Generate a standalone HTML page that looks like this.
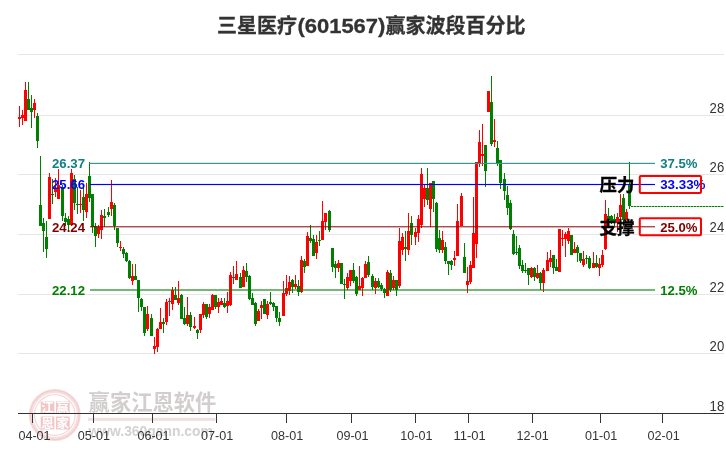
<!DOCTYPE html>
<html lang="zh-CN">
<head>
<meta charset="utf-8">
<title>三星医疗(601567)赢家波段百分比</title>
<style>
html,body{margin:0;padding:0;background:#fff;}
body{width:726px;height:450px;overflow:hidden;position:relative;font-family:"Liberation Sans","Noto Sans CJK SC",sans-serif;}
#chart{position:absolute;left:0;top:0;width:726px;height:450px;display:block;}
text{font-family:"Liberation Sans","Noto Sans CJK SC",sans-serif;}
.title{font-size:20px;font-weight:bold;fill:#333;stroke:#333;stroke-width:0.3px;}
.ax{font-size:13px;fill:#333;}
.lb{font-size:12px;font-weight:bold;}
.zh{font-size:17.5px;font-weight:bold;fill:#000;stroke:#000;stroke-width:0.35px;}
.wm{font-size:21.3px;font-weight:bold;fill:#d3cece;}
.wm2{font-size:14.2px;font-weight:bold;fill:#d3d1d1;}
</style>
</head>
<body>
<svg id="chart" width="726" height="450" viewBox="0 0 726 450" shape-rendering="crispEdges">
<rect x="0" y="0" width="726" height="450" fill="#fff"/>
<!-- grid -->
<g fill="#e6e6e6">
<rect x="18" y="54" width="706" height="1"/>
<rect x="18" y="115" width="706" height="1"/>
<rect x="18" y="174" width="706" height="1"/>
<rect x="18" y="234" width="706" height="1"/>
<rect x="18" y="294" width="706" height="1"/>
<rect x="18" y="353" width="706" height="1"/>
</g>
<!-- watermark -->
<g id="wm" shape-rendering="auto">
<circle cx="54.8" cy="415" r="24" fill="none" stroke="#f7dede" stroke-width="4"/>
<circle cx="54.8" cy="415" r="24.6" fill="none" stroke="#f3cdcd" stroke-width="1.2"/>
<circle cx="54.8" cy="415" r="20.3" fill="none" stroke="#f5d6d6" stroke-width="1.2"/>
<rect x="40.7" y="401.5" width="13.7" height="12" fill="#f1c6c6"/>
<rect x="56" y="401.5" width="13.7" height="12" fill="#f1c6c6"/>
<rect x="40.7" y="416.5" width="13.7" height="13" fill="#f1c6c6"/>
<rect x="56" y="416.5" width="13.7" height="13" fill="#f1c6c6"/>
<text x="47.5" y="412" text-anchor="middle" font-size="12.5" font-weight="bold" fill="#fff">江</text>
<text x="62.8" y="412" text-anchor="middle" font-size="12.5" font-weight="bold" fill="#fff">赢</text>
<text x="47.5" y="427.8" text-anchor="middle" font-size="12.5" font-weight="bold" fill="#fff">恩</text>
<text x="62.8" y="427.8" text-anchor="middle" font-size="12.5" font-weight="bold" fill="#fff">家</text>
<text class="wm" x="88.6" y="409.6">赢家江恩软件</text>
<rect x="88" y="417.8" width="127.5" height="3" fill="#f2e0e0"/>
<text class="wm2" x="88.4" y="435.6" textLength="124.5" lengthAdjust="spacingAndGlyphs">www.360gann.com</text>
</g>
<!-- candles -->
<g id="candles">
<rect x="19" y="106" width="1" height="21" fill="#ff0000"/><rect x="18" y="117" width="3" height="2" fill="#ff0000"/>
<rect x="22" y="110" width="1" height="15" fill="#ff0000"/><rect x="21" y="115" width="3" height="3" fill="#ff0000"/>
<rect x="25" y="82" width="1" height="39" fill="#ff0000"/><rect x="24" y="90" width="3" height="31" fill="#ff0000"/>
<rect x="28" y="82" width="1" height="28" fill="#008000"/><rect x="27" y="99" width="3" height="11" fill="#008000"/>
<rect x="31" y="95" width="1" height="33" fill="#008000"/><rect x="30" y="108" width="3" height="4" fill="#008000"/>
<rect x="34" y="99" width="1" height="19" fill="#ff0000"/><rect x="33" y="103" width="3" height="7" fill="#ff0000"/>
<rect x="37" y="113" width="1" height="35" fill="#008000"/><rect x="36" y="116" width="3" height="25" fill="#008000"/>
<rect x="40" y="156" width="1" height="70" fill="#008000"/><rect x="39" y="205" width="3" height="21" fill="#008000"/>
<rect x="43" y="218" width="1" height="34" fill="#008000"/><rect x="42" y="223" width="3" height="8" fill="#008000"/>
<rect x="46" y="221" width="1" height="37" fill="#008000"/><rect x="45" y="237" width="3" height="12" fill="#008000"/>
<rect x="49" y="173" width="1" height="46" fill="#ff0000"/><rect x="48" y="177" width="3" height="42" fill="#ff0000"/>
<rect x="52" y="179" width="1" height="25" fill="#008000"/><rect x="51" y="194" width="3" height="1" fill="#008000"/>
<rect x="55" y="178" width="1" height="19" fill="#ff0000"/><rect x="54" y="188" width="3" height="4" fill="#ff0000"/>
<rect x="58" y="169" width="1" height="30" fill="#ff0000"/><rect x="57" y="185" width="3" height="14" fill="#ff0000"/>
<rect x="62" y="185" width="1" height="36" fill="#008000"/><rect x="61" y="187" width="3" height="29" fill="#008000"/>
<rect x="65" y="213" width="1" height="13" fill="#008000"/><rect x="64" y="218" width="3" height="4" fill="#008000"/>
<rect x="68" y="216" width="1" height="15" fill="#008000"/><rect x="67" y="219" width="3" height="6" fill="#008000"/>
<rect x="71" y="169" width="1" height="57" fill="#ff0000"/><rect x="70" y="173" width="3" height="52" fill="#ff0000"/>
<rect x="74" y="175" width="1" height="35" fill="#008000"/><rect x="73" y="179" width="3" height="24" fill="#008000"/>
<rect x="77" y="187" width="1" height="27" fill="#008000"/><rect x="76" y="204" width="3" height="1" fill="#008000"/>
<rect x="80" y="190" width="1" height="23" fill="#ff0000"/><rect x="79" y="204" width="3" height="1" fill="#ff0000"/>
<rect x="83" y="188" width="1" height="33" fill="#008000"/><rect x="82" y="197" width="3" height="13" fill="#008000"/>
<rect x="86" y="183" width="1" height="35" fill="#ff0000"/><rect x="85" y="194" width="3" height="18" fill="#ff0000"/>
<rect x="89" y="162" width="1" height="40" fill="#008000"/><rect x="88" y="176" width="3" height="22" fill="#008000"/>
<rect x="92" y="194" width="1" height="39" fill="#008000"/><rect x="91" y="194" width="3" height="33" fill="#008000"/>
<rect x="95" y="223" width="1" height="24" fill="#008000"/><rect x="94" y="226" width="3" height="10" fill="#008000"/>
<rect x="98" y="225" width="1" height="13" fill="#ff0000"/><rect x="97" y="227" width="3" height="7" fill="#ff0000"/>
<rect x="101" y="210" width="1" height="29" fill="#ff0000"/><rect x="100" y="215" width="3" height="15" fill="#ff0000"/>
<rect x="104" y="209" width="1" height="18" fill="#008000"/><rect x="103" y="216" width="3" height="2" fill="#008000"/>
<rect x="108" y="207" width="1" height="10" fill="#008000"/><rect x="107" y="212" width="3" height="3" fill="#008000"/>
<rect x="111" y="180" width="1" height="36" fill="#ff0000"/><rect x="110" y="202" width="3" height="7" fill="#ff0000"/>
<rect x="114" y="203" width="1" height="27" fill="#008000"/><rect x="113" y="205" width="3" height="21" fill="#008000"/>
<rect x="117" y="228" width="1" height="19" fill="#008000"/><rect x="116" y="228" width="3" height="15" fill="#008000"/>
<rect x="120" y="241" width="1" height="10" fill="#ff0000"/><rect x="119" y="247" width="3" height="1" fill="#ff0000"/>
<rect x="123" y="247" width="1" height="11" fill="#008000"/><rect x="122" y="249" width="3" height="5" fill="#008000"/>
<rect x="126" y="252" width="1" height="10" fill="#008000"/><rect x="125" y="253" width="3" height="8" fill="#008000"/>
<rect x="129" y="260" width="1" height="19" fill="#008000"/><rect x="128" y="261" width="3" height="17" fill="#008000"/>
<rect x="132" y="264" width="1" height="21" fill="#ff0000"/><rect x="131" y="276" width="3" height="5" fill="#ff0000"/>
<rect x="135" y="264" width="1" height="16" fill="#008000"/><rect x="134" y="276" width="3" height="4" fill="#008000"/>
<rect x="138" y="280" width="1" height="32" fill="#008000"/><rect x="137" y="280" width="3" height="18" fill="#008000"/>
<rect x="141" y="298" width="1" height="13" fill="#008000"/><rect x="140" y="299" width="3" height="8" fill="#008000"/>
<rect x="144" y="307" width="1" height="29" fill="#008000"/><rect x="143" y="307" width="3" height="26" fill="#008000"/>
<rect x="147" y="306" width="1" height="25" fill="#ff0000"/><rect x="146" y="314" width="3" height="15" fill="#ff0000"/>
<rect x="151" y="314" width="1" height="22" fill="#008000"/><rect x="150" y="318" width="3" height="18" fill="#008000"/>
<rect x="154" y="337" width="1" height="17" fill="#ff0000"/><rect x="153" y="346" width="3" height="3" fill="#ff0000"/>
<rect x="157" y="328" width="1" height="24" fill="#ff0000"/><rect x="156" y="329" width="3" height="18" fill="#ff0000"/>
<rect x="160" y="308" width="1" height="21" fill="#ff0000"/><rect x="159" y="322" width="3" height="7" fill="#ff0000"/>
<rect x="163" y="318" width="1" height="15" fill="#008000"/><rect x="162" y="322" width="3" height="2" fill="#008000"/>
<rect x="166" y="299" width="1" height="26" fill="#ff0000"/><rect x="165" y="302" width="3" height="20" fill="#ff0000"/>
<rect x="169" y="298" width="1" height="18" fill="#ff0000"/><rect x="168" y="301" width="3" height="1" fill="#ff0000"/>
<rect x="172" y="287" width="1" height="23" fill="#ff0000"/><rect x="171" y="290" width="3" height="14" fill="#ff0000"/>
<rect x="175" y="287" width="1" height="13" fill="#008000"/><rect x="174" y="295" width="3" height="5" fill="#008000"/>
<rect x="178" y="281" width="1" height="24" fill="#ff0000"/><rect x="177" y="298" width="3" height="5" fill="#ff0000"/>
<rect x="181" y="294" width="1" height="25" fill="#008000"/><rect x="180" y="295" width="3" height="24" fill="#008000"/>
<rect x="184" y="307" width="1" height="18" fill="#008000"/><rect x="183" y="318" width="3" height="6" fill="#008000"/>
<rect x="187" y="297" width="1" height="29" fill="#ff0000"/><rect x="186" y="315" width="3" height="9" fill="#ff0000"/>
<rect x="190" y="312" width="1" height="19" fill="#008000"/><rect x="189" y="315" width="3" height="12" fill="#008000"/>
<rect x="194" y="317" width="1" height="12" fill="#ff0000"/><rect x="193" y="326" width="3" height="2" fill="#ff0000"/>
<rect x="197" y="329" width="1" height="10" fill="#008000"/><rect x="196" y="330" width="3" height="3" fill="#008000"/>
<rect x="200" y="314" width="1" height="19" fill="#ff0000"/><rect x="199" y="314" width="3" height="16" fill="#ff0000"/>
<rect x="203" y="302" width="1" height="16" fill="#ff0000"/><rect x="202" y="304" width="3" height="11" fill="#ff0000"/>
<rect x="206" y="304" width="1" height="15" fill="#008000"/><rect x="205" y="304" width="3" height="13" fill="#008000"/>
<rect x="209" y="304" width="1" height="14" fill="#ff0000"/><rect x="208" y="307" width="3" height="7" fill="#ff0000"/>
<rect x="212" y="294" width="1" height="16" fill="#ff0000"/><rect x="211" y="295" width="3" height="15" fill="#ff0000"/>
<rect x="215" y="295" width="1" height="14" fill="#008000"/><rect x="214" y="295" width="3" height="12" fill="#008000"/>
<rect x="218" y="298" width="1" height="15" fill="#ff0000"/><rect x="217" y="302" width="3" height="5" fill="#ff0000"/>
<rect x="221" y="298" width="1" height="7" fill="#ff0000"/><rect x="220" y="301" width="3" height="4" fill="#ff0000"/>
<rect x="224" y="298" width="1" height="10" fill="#008000"/><rect x="223" y="303" width="3" height="4" fill="#008000"/>
<rect x="227" y="292" width="1" height="21" fill="#ff0000"/><rect x="226" y="301" width="3" height="5" fill="#ff0000"/>
<rect x="230" y="272" width="1" height="34" fill="#ff0000"/><rect x="229" y="275" width="3" height="30" fill="#ff0000"/>
<rect x="233" y="266" width="1" height="18" fill="#ff0000"/><rect x="232" y="277" width="3" height="1" fill="#ff0000"/>
<rect x="236" y="261" width="1" height="19" fill="#ff0000"/><rect x="235" y="274" width="3" height="6" fill="#ff0000"/>
<rect x="240" y="273" width="1" height="15" fill="#008000"/><rect x="239" y="277" width="3" height="11" fill="#008000"/>
<rect x="243" y="266" width="1" height="21" fill="#ff0000"/><rect x="242" y="270" width="3" height="17" fill="#ff0000"/>
<rect x="246" y="263" width="1" height="19" fill="#008000"/><rect x="245" y="271" width="3" height="6" fill="#008000"/>
<rect x="249" y="275" width="1" height="25" fill="#008000"/><rect x="248" y="276" width="3" height="23" fill="#008000"/>
<rect x="252" y="293" width="1" height="12" fill="#008000"/><rect x="251" y="298" width="3" height="7" fill="#008000"/>
<rect x="255" y="302" width="1" height="24" fill="#008000"/><rect x="254" y="303" width="3" height="21" fill="#008000"/>
<rect x="258" y="309" width="1" height="12" fill="#ff0000"/><rect x="257" y="311" width="3" height="10" fill="#ff0000"/>
<rect x="261" y="301" width="1" height="18" fill="#ff0000"/><rect x="260" y="305" width="3" height="3" fill="#ff0000"/>
<rect x="264" y="299" width="1" height="15" fill="#008000"/><rect x="263" y="299" width="3" height="15" fill="#008000"/>
<rect x="267" y="301" width="1" height="18" fill="#ff0000"/><rect x="266" y="304" width="3" height="11" fill="#ff0000"/>
<rect x="270" y="292" width="1" height="13" fill="#008000"/><rect x="269" y="302" width="3" height="2" fill="#008000"/>
<rect x="273" y="302" width="1" height="9" fill="#008000"/><rect x="272" y="303" width="3" height="4" fill="#008000"/>
<rect x="276" y="306" width="1" height="16" fill="#008000"/><rect x="275" y="306" width="3" height="12" fill="#008000"/>
<rect x="279" y="312" width="1" height="14" fill="#008000"/><rect x="278" y="318" width="3" height="4" fill="#008000"/>
<rect x="283" y="281" width="1" height="35" fill="#ff0000"/><rect x="282" y="293" width="3" height="23" fill="#ff0000"/>
<rect x="286" y="275" width="1" height="21" fill="#ff0000"/><rect x="285" y="288" width="3" height="6" fill="#ff0000"/>
<rect x="289" y="276" width="1" height="19" fill="#ff0000"/><rect x="288" y="282" width="3" height="9" fill="#ff0000"/>
<rect x="292" y="279" width="1" height="14" fill="#008000"/><rect x="291" y="280" width="3" height="7" fill="#008000"/>
<rect x="295" y="275" width="1" height="14" fill="#ff0000"/><rect x="294" y="284" width="3" height="3" fill="#ff0000"/>
<rect x="298" y="280" width="1" height="16" fill="#008000"/><rect x="297" y="286" width="3" height="6" fill="#008000"/>
<rect x="301" y="256" width="1" height="37" fill="#ff0000"/><rect x="300" y="260" width="3" height="32" fill="#ff0000"/>
<rect x="304" y="259" width="1" height="14" fill="#008000"/><rect x="303" y="261" width="3" height="6" fill="#008000"/>
<rect x="307" y="232" width="1" height="34" fill="#ff0000"/><rect x="306" y="236" width="3" height="30" fill="#ff0000"/>
<rect x="310" y="225" width="1" height="18" fill="#008000"/><rect x="309" y="238" width="3" height="3" fill="#008000"/>
<rect x="313" y="235" width="1" height="21" fill="#008000"/><rect x="312" y="239" width="3" height="17" fill="#008000"/>
<rect x="316" y="235" width="1" height="24" fill="#ff0000"/><rect x="315" y="242" width="3" height="11" fill="#ff0000"/>
<rect x="319" y="231" width="1" height="15" fill="#008000"/><rect x="318" y="240" width="3" height="1" fill="#008000"/>
<rect x="322" y="201" width="1" height="39" fill="#ff0000"/><rect x="321" y="221" width="3" height="19" fill="#ff0000"/>
<rect x="325" y="213" width="1" height="17" fill="#ff0000"/><rect x="324" y="213" width="3" height="9" fill="#ff0000"/>
<rect x="329" y="210" width="1" height="22" fill="#008000"/><rect x="328" y="211" width="3" height="19" fill="#008000"/>
<rect x="332" y="248" width="1" height="24" fill="#008000"/><rect x="331" y="248" width="3" height="19" fill="#008000"/>
<rect x="335" y="261" width="1" height="17" fill="#008000"/><rect x="334" y="264" width="3" height="4" fill="#008000"/>
<rect x="338" y="260" width="1" height="12" fill="#ff0000"/><rect x="337" y="263" width="3" height="5" fill="#ff0000"/>
<rect x="341" y="263" width="1" height="21" fill="#008000"/><rect x="340" y="263" width="3" height="21" fill="#008000"/>
<rect x="344" y="279" width="1" height="20" fill="#008000"/><rect x="343" y="284" width="3" height="1" fill="#008000"/>
<rect x="347" y="273" width="1" height="17" fill="#ff0000"/><rect x="346" y="277" width="3" height="11" fill="#ff0000"/>
<rect x="350" y="270" width="1" height="16" fill="#ff0000"/><rect x="349" y="270" width="3" height="11" fill="#ff0000"/>
<rect x="353" y="263" width="1" height="20" fill="#008000"/><rect x="352" y="270" width="3" height="11" fill="#008000"/>
<rect x="356" y="276" width="1" height="20" fill="#008000"/><rect x="355" y="277" width="3" height="17" fill="#008000"/>
<rect x="359" y="266" width="1" height="24" fill="#ff0000"/><rect x="358" y="286" width="3" height="4" fill="#ff0000"/>
<rect x="362" y="277" width="1" height="19" fill="#ff0000"/><rect x="361" y="278" width="3" height="10" fill="#ff0000"/>
<rect x="365" y="261" width="1" height="17" fill="#ff0000"/><rect x="364" y="264" width="3" height="14" fill="#ff0000"/>
<rect x="368" y="256" width="1" height="21" fill="#008000"/><rect x="367" y="262" width="3" height="13" fill="#008000"/>
<rect x="372" y="274" width="1" height="16" fill="#008000"/><rect x="371" y="276" width="3" height="11" fill="#008000"/>
<rect x="375" y="278" width="1" height="16" fill="#ff0000"/><rect x="374" y="281" width="3" height="7" fill="#ff0000"/>
<rect x="378" y="278" width="1" height="10" fill="#008000"/><rect x="377" y="281" width="3" height="6" fill="#008000"/>
<rect x="381" y="283" width="1" height="8" fill="#008000"/><rect x="380" y="285" width="3" height="4" fill="#008000"/>
<rect x="384" y="288" width="1" height="10" fill="#008000"/><rect x="383" y="289" width="3" height="4" fill="#008000"/>
<rect x="387" y="270" width="1" height="26" fill="#ff0000"/><rect x="386" y="272" width="3" height="24" fill="#ff0000"/>
<rect x="390" y="270" width="1" height="22" fill="#008000"/><rect x="389" y="273" width="3" height="17" fill="#008000"/>
<rect x="393" y="276" width="1" height="14" fill="#ff0000"/><rect x="392" y="280" width="3" height="8" fill="#ff0000"/>
<rect x="396" y="280" width="1" height="16" fill="#008000"/><rect x="395" y="280" width="3" height="10" fill="#008000"/>
<rect x="399" y="228" width="1" height="60" fill="#ff0000"/><rect x="398" y="241" width="3" height="45" fill="#ff0000"/>
<rect x="402" y="233" width="1" height="22" fill="#ff0000"/><rect x="401" y="237" width="3" height="13" fill="#ff0000"/>
<rect x="405" y="231" width="1" height="30" fill="#008000"/><rect x="404" y="247" width="3" height="2" fill="#008000"/>
<rect x="408" y="213" width="1" height="42" fill="#ff0000"/><rect x="407" y="231" width="3" height="19" fill="#ff0000"/>
<rect x="411" y="216" width="1" height="29" fill="#008000"/><rect x="410" y="223" width="3" height="12" fill="#008000"/>
<rect x="415" y="228" width="1" height="17" fill="#ff0000"/><rect x="414" y="232" width="3" height="5" fill="#ff0000"/>
<rect x="418" y="215" width="1" height="27" fill="#ff0000"/><rect x="417" y="219" width="3" height="14" fill="#ff0000"/>
<rect x="421" y="168" width="1" height="60" fill="#ff0000"/><rect x="420" y="174" width="3" height="51" fill="#ff0000"/>
<rect x="424" y="185" width="1" height="22" fill="#ff0000"/><rect x="423" y="188" width="3" height="11" fill="#ff0000"/>
<rect x="427" y="168" width="1" height="37" fill="#008000"/><rect x="426" y="188" width="3" height="12" fill="#008000"/>
<rect x="430" y="183" width="1" height="44" fill="#ff0000"/><rect x="429" y="183" width="3" height="26" fill="#ff0000"/>
<rect x="433" y="181" width="1" height="31" fill="#008000"/><rect x="432" y="181" width="3" height="18" fill="#008000"/>
<rect x="436" y="202" width="1" height="50" fill="#008000"/><rect x="435" y="203" width="3" height="46" fill="#008000"/>
<rect x="439" y="230" width="1" height="23" fill="#008000"/><rect x="438" y="238" width="3" height="12" fill="#008000"/>
<rect x="442" y="231" width="1" height="22" fill="#ff0000"/><rect x="441" y="240" width="3" height="10" fill="#ff0000"/>
<rect x="445" y="242" width="1" height="22" fill="#008000"/><rect x="444" y="247" width="3" height="14" fill="#008000"/>
<rect x="448" y="261" width="1" height="14" fill="#008000"/><rect x="447" y="261" width="3" height="3" fill="#008000"/>
<rect x="451" y="260" width="1" height="10" fill="#008000"/><rect x="450" y="261" width="3" height="4" fill="#008000"/>
<rect x="454" y="251" width="1" height="15" fill="#ff0000"/><rect x="453" y="258" width="3" height="2" fill="#ff0000"/>
<rect x="457" y="204" width="1" height="52" fill="#ff0000"/><rect x="456" y="221" width="3" height="35" fill="#ff0000"/>
<rect x="461" y="193" width="1" height="33" fill="#ff0000"/><rect x="460" y="196" width="3" height="30" fill="#ff0000"/>
<rect x="464" y="243" width="1" height="30" fill="#008000"/><rect x="463" y="257" width="3" height="16" fill="#008000"/>
<rect x="467" y="267" width="1" height="26" fill="#ff0000"/><rect x="466" y="281" width="3" height="4" fill="#ff0000"/>
<rect x="470" y="261" width="1" height="23" fill="#ff0000"/><rect x="469" y="265" width="3" height="17" fill="#ff0000"/>
<rect x="473" y="197" width="1" height="71" fill="#ff0000"/><rect x="472" y="233" width="3" height="35" fill="#ff0000"/>
<rect x="476" y="162" width="1" height="96" fill="#ff0000"/><rect x="475" y="162" width="3" height="82" fill="#ff0000"/>
<rect x="479" y="130" width="1" height="37" fill="#ff0000"/><rect x="478" y="142" width="3" height="21" fill="#ff0000"/>
<rect x="482" y="124" width="1" height="42" fill="#ff0000"/><rect x="481" y="154" width="3" height="2" fill="#ff0000"/>
<rect x="485" y="145" width="1" height="42" fill="#008000"/><rect x="484" y="145" width="3" height="26" fill="#008000"/>
<rect x="488" y="91" width="1" height="21" fill="#ff0000"/><rect x="487" y="91" width="3" height="21" fill="#ff0000"/>
<rect x="491" y="76" width="1" height="70" fill="#008000"/><rect x="490" y="102" width="3" height="42" fill="#008000"/>
<rect x="494" y="119" width="1" height="28" fill="#ff0000"/><rect x="493" y="140" width="3" height="2" fill="#ff0000"/>
<rect x="497" y="141" width="1" height="25" fill="#008000"/><rect x="496" y="148" width="3" height="15" fill="#008000"/>
<rect x="500" y="160" width="1" height="29" fill="#008000"/><rect x="499" y="160" width="3" height="23" fill="#008000"/>
<rect x="504" y="173" width="1" height="27" fill="#008000"/><rect x="503" y="179" width="3" height="12" fill="#008000"/>
<rect x="507" y="186" width="1" height="29" fill="#008000"/><rect x="506" y="195" width="3" height="13" fill="#008000"/>
<rect x="510" y="200" width="1" height="30" fill="#008000"/><rect x="509" y="203" width="3" height="26" fill="#008000"/>
<rect x="513" y="230" width="1" height="25" fill="#008000"/><rect x="512" y="234" width="3" height="20" fill="#008000"/>
<rect x="516" y="236" width="1" height="19" fill="#008000"/><rect x="515" y="252" width="3" height="1" fill="#008000"/>
<rect x="519" y="245" width="1" height="24" fill="#008000"/><rect x="518" y="248" width="3" height="18" fill="#008000"/>
<rect x="522" y="260" width="1" height="13" fill="#008000"/><rect x="521" y="265" width="3" height="6" fill="#008000"/>
<rect x="525" y="263" width="1" height="10" fill="#008000"/><rect x="524" y="270" width="3" height="1" fill="#008000"/>
<rect x="528" y="268" width="1" height="17" fill="#008000"/><rect x="527" y="268" width="3" height="7" fill="#008000"/>
<rect x="531" y="267" width="1" height="11" fill="#ff0000"/><rect x="530" y="268" width="3" height="9" fill="#ff0000"/>
<rect x="534" y="267" width="1" height="14" fill="#008000"/><rect x="533" y="268" width="3" height="9" fill="#008000"/>
<rect x="537" y="265" width="1" height="14" fill="#ff0000"/><rect x="536" y="273" width="3" height="5" fill="#ff0000"/>
<rect x="540" y="272" width="1" height="18" fill="#008000"/><rect x="539" y="273" width="3" height="10" fill="#008000"/>
<rect x="543" y="268" width="1" height="24" fill="#ff0000"/><rect x="542" y="270" width="3" height="13" fill="#ff0000"/>
<rect x="547" y="252" width="1" height="19" fill="#ff0000"/><rect x="546" y="260" width="3" height="11" fill="#ff0000"/>
<rect x="550" y="250" width="1" height="17" fill="#ff0000"/><rect x="549" y="258" width="3" height="4" fill="#ff0000"/>
<rect x="553" y="255" width="1" height="19" fill="#008000"/><rect x="552" y="255" width="3" height="13" fill="#008000"/>
<rect x="556" y="259" width="1" height="12" fill="#008000"/><rect x="555" y="267" width="3" height="4" fill="#008000"/>
<rect x="559" y="229" width="1" height="43" fill="#ff0000"/><rect x="558" y="229" width="3" height="43" fill="#ff0000"/>
<rect x="562" y="230" width="1" height="16" fill="#ff0000"/><rect x="561" y="238" width="3" height="1" fill="#ff0000"/>
<rect x="565" y="232" width="1" height="25" fill="#ff0000"/><rect x="564" y="234" width="3" height="5" fill="#ff0000"/>
<rect x="568" y="228" width="1" height="16" fill="#ff0000"/><rect x="567" y="231" width="3" height="10" fill="#ff0000"/>
<rect x="571" y="235" width="1" height="20" fill="#008000"/><rect x="570" y="235" width="3" height="20" fill="#008000"/>
<rect x="574" y="242" width="1" height="11" fill="#ff0000"/><rect x="573" y="249" width="3" height="4" fill="#ff0000"/>
<rect x="577" y="245" width="1" height="17" fill="#008000"/><rect x="576" y="247" width="3" height="6" fill="#008000"/>
<rect x="580" y="253" width="1" height="10" fill="#008000"/><rect x="579" y="253" width="3" height="8" fill="#008000"/>
<rect x="583" y="251" width="1" height="16" fill="#ff0000"/><rect x="582" y="259" width="3" height="6" fill="#ff0000"/>
<rect x="586" y="255" width="1" height="9" fill="#008000"/><rect x="585" y="258" width="3" height="1" fill="#008000"/>
<rect x="589" y="256" width="1" height="13" fill="#008000"/><rect x="588" y="258" width="3" height="10" fill="#008000"/>
<rect x="593" y="252" width="1" height="16" fill="#ff0000"/><rect x="592" y="263" width="3" height="5" fill="#ff0000"/>
<rect x="596" y="255" width="1" height="13" fill="#008000"/><rect x="595" y="263" width="3" height="4" fill="#008000"/>
<rect x="599" y="258" width="1" height="18" fill="#ff0000"/><rect x="598" y="264" width="3" height="4" fill="#ff0000"/>
<rect x="602" y="250" width="1" height="17" fill="#ff0000"/><rect x="601" y="255" width="3" height="10" fill="#ff0000"/>
<rect x="605" y="200" width="1" height="50" fill="#ff0000"/><rect x="604" y="214" width="3" height="35" fill="#ff0000"/>
<rect x="608" y="208" width="1" height="13" fill="#008000"/><rect x="607" y="216" width="3" height="4" fill="#008000"/>
<rect x="611" y="215" width="1" height="9" fill="#008000"/><rect x="610" y="216" width="3" height="5" fill="#008000"/>
<rect x="614" y="214" width="1" height="12" fill="#008000"/><rect x="613" y="219" width="3" height="2" fill="#008000"/>
<rect x="617" y="213" width="1" height="19" fill="#ff0000"/><rect x="616" y="217" width="3" height="6" fill="#ff0000"/>
<rect x="620" y="194" width="1" height="26" fill="#ff0000"/><rect x="619" y="205" width="3" height="12" fill="#ff0000"/>
<rect x="623" y="194" width="1" height="32" fill="#008000"/><rect x="622" y="198" width="3" height="22" fill="#008000"/>
<rect x="626" y="209" width="1" height="11" fill="#ff0000"/><rect x="625" y="212" width="3" height="7" fill="#ff0000"/>
<rect x="629" y="162" width="1" height="47" fill="#008000"/><rect x="628" y="185" width="3" height="21" fill="#008000"/>
</g>
<!-- annotation lines -->
<g id="lines">
<rect x="89" y="163" width="566" height="1" fill="#3a9494"/>
<rect x="89" y="162" width="566" height="1" fill="#008080" opacity="0.15"/>
<rect x="90" y="184" width="565" height="1" fill="#0000ff"/>
<rect x="90" y="183" width="565" height="1" fill="#0000ff" opacity="0.08"/>
<rect x="90" y="185" width="565" height="1" fill="#0000ff" opacity="0.08"/>
<rect x="90" y="226" width="565" height="1" fill="#8b0000" opacity="0.7"/>
<rect x="90" y="227" width="565" height="1" fill="#8b0000" opacity="0.3"/>
<rect x="90" y="289" width="565" height="2" fill="#008000" opacity="0.55"/>
</g>
<rect x="631" y="206" width="93" height="1" fill="#008000" opacity="0.45"/>
<line x1="631" y1="206.5" x2="724" y2="206.5" stroke="#008000" stroke-width="1" stroke-dasharray="2,1"/>
<g shape-rendering="auto">
<text class="lb" x="52" y="167.8" fill="#108080" textLength="33" lengthAdjust="spacingAndGlyphs">26.37</text>
<text class="lb" x="52" y="188.8" fill="#0000ff" textLength="33" lengthAdjust="spacingAndGlyphs">25.66</text>
<text class="lb" x="52" y="231.8" fill="#800000" textLength="33" lengthAdjust="spacingAndGlyphs">24.24</text>
<text class="lb" x="52" y="294.8" fill="#008000" textLength="33" lengthAdjust="spacingAndGlyphs">22.12</text>
<text class="lb" x="660.2" y="167.8" fill="#108080" textLength="37.2" lengthAdjust="spacingAndGlyphs">37.5%</text>
<text class="lb" x="660.2" y="188.8" fill="#0000ff" textLength="45.3" lengthAdjust="spacingAndGlyphs">33.33%</text>
<text class="lb" x="660.2" y="231.8" fill="#800000" textLength="37.2" lengthAdjust="spacingAndGlyphs">25.0%</text>
<text class="lb" x="660.2" y="294.8" fill="#008000" textLength="37.2" lengthAdjust="spacingAndGlyphs">12.5%</text>
<text class="zh" x="599.5" y="191">压力</text>
<text class="zh" x="599.5" y="234">支撑</text>
<rect x="639.8" y="176" width="61.2" height="17" rx="1" fill="none" stroke="#ff0000" stroke-width="2"/>
<rect x="639.8" y="218.2" width="61.2" height="17" rx="1" fill="none" stroke="#ff0000" stroke-width="2"/>
</g>
<!-- axis -->
<rect x="18" y="413" width="706" height="1" fill="#333"/>
<g fill="#333">
<rect x="32" y="413" width="1" height="10"/>
<rect x="93" y="413" width="1" height="10"/>
<rect x="152" y="413" width="1" height="10"/>
<rect x="216" y="413" width="1" height="10"/>
<rect x="286" y="413" width="1" height="10"/>
<rect x="351" y="413" width="1" height="10"/>
<rect x="415" y="413" width="1" height="10"/>
<rect x="468" y="413" width="1" height="10"/>
<rect x="532" y="413" width="1" height="10"/>
<rect x="600" y="413" width="1" height="10"/>
<rect x="662" y="413" width="1" height="10"/>
</g>
<g class="ax" shape-rendering="auto">
<text x="18.4" y="439.7" textLength="32.2" lengthAdjust="spacingAndGlyphs">04-01</text>
<text x="77.8" y="439.7" textLength="32.2" lengthAdjust="spacingAndGlyphs">05-01</text>
<text x="137.4" y="439.7" textLength="32.2" lengthAdjust="spacingAndGlyphs">06-01</text>
<text x="201.1" y="439.7" textLength="32.2" lengthAdjust="spacingAndGlyphs">07-01</text>
<text x="271.1" y="439.7" textLength="32.2" lengthAdjust="spacingAndGlyphs">08-01</text>
<text x="336.4" y="439.7" textLength="32.2" lengthAdjust="spacingAndGlyphs">09-01</text>
<text x="400.2" y="439.7" textLength="32.2" lengthAdjust="spacingAndGlyphs">10-01</text>
<text x="453.5" y="439.7" textLength="32.2" lengthAdjust="spacingAndGlyphs">11-01</text>
<text x="516.5" y="439.7" textLength="32.2" lengthAdjust="spacingAndGlyphs">12-01</text>
<text x="585" y="439.7" textLength="32.2" lengthAdjust="spacingAndGlyphs">01-01</text>
<text x="647.6" y="439.7" textLength="32.2" lengthAdjust="spacingAndGlyphs">02-01</text>
</g>
<g class="ax" shape-rendering="auto">
<text x="709.6" y="113" font-size="14.5" textLength="14.6" lengthAdjust="spacingAndGlyphs">28</text>
<text x="709.6" y="172" font-size="14.5" textLength="14.6" lengthAdjust="spacingAndGlyphs">26</text>
<text x="709.6" y="232" font-size="14.5" textLength="14.6" lengthAdjust="spacingAndGlyphs">24</text>
<text x="709.6" y="292" font-size="14.5" textLength="14.6" lengthAdjust="spacingAndGlyphs">22</text>
<text x="709.6" y="351" font-size="14.5" textLength="14.6" lengthAdjust="spacingAndGlyphs">20</text>
<text x="709.6" y="411" font-size="14.5" textLength="14.6" lengthAdjust="spacingAndGlyphs">18</text>
</g>
<g class="title" shape-rendering="auto">
<text x="217" y="33.3">三星医疗</text>
<text x="297.4" y="33" textLength="88" lengthAdjust="spacingAndGlyphs">(601567)</text>
<text x="385.5" y="33.3">赢家波段百分比</text>
</g>
</svg>
</body>
</html>
